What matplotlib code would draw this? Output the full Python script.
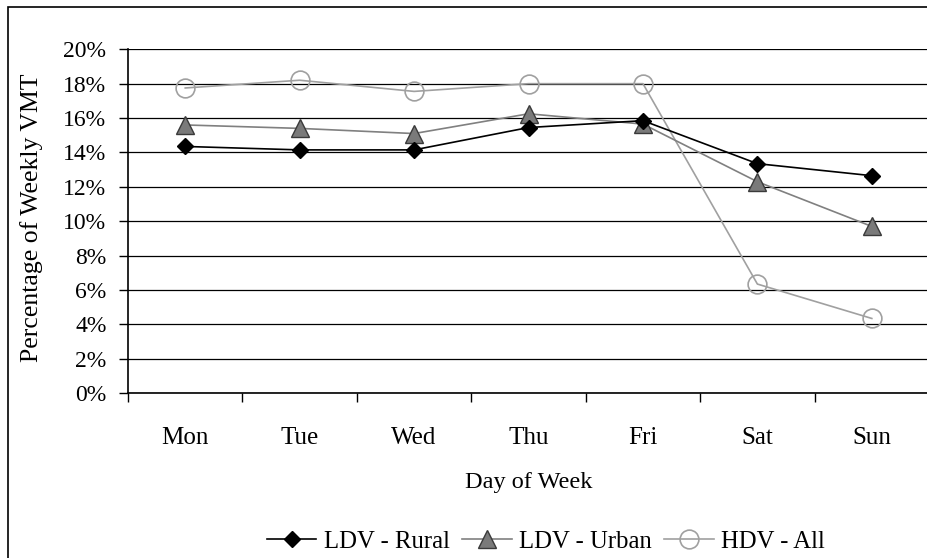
import matplotlib
matplotlib.use('Agg')
import matplotlib.pyplot as plt
from matplotlib.patches import Rectangle
from matplotlib.ticker import FuncFormatter, FixedLocator

# --- dados ---
days = ['Mon', 'Tue', 'Wed', 'Thu', 'Fri', 'Sat', 'Sun']
ldv_rural = [14.35, 14.15, 14.15, 15.45, 15.85, 13.35, 12.65]
ldv_urban = [15.6, 15.4, 15.1, 16.25, 15.65, 12.3, 9.7]
hdv_all = [17.75, 18.2, 17.55, 18.0, 18.0, 6.35, 4.35]

plt.rcParams['font.family'] = ['Liberation Serif', 'DejaVu Serif']
FS = 17

fig = plt.figure(figsize=(9.27, 5.58), dpi=100)
ax = fig.add_axes([0.1381, 0.2952, 0.8641, 0.6165])

x = list(range(len(days)))

ax.plot(x, ldv_rural, color='black', lw=1.2, marker='D', ms=8.5,
        mfc='black', mec='black', label='LDV - Rural', zorder=5)
ax.plot(x, ldv_urban, color='#808080', lw=1.2, marker='^', ms=12.5,
        mfc='#7a7a7a', mec='#3a3a3a', mew=1.0, label='LDV - Urban', zorder=4)
ax.plot(x, hdv_all, color='#a0a0a0', lw=1.2, marker='o', ms=13.5,
        mfc='none', mec='#a0a0a0', mew=1.2, label='HDV - All', zorder=3)

ax.set_xlim(-0.5, 6.5)
ax.set_ylim(0, 20)
ax.set_yticks(range(0, 21, 2))
ax.yaxis.set_major_formatter(FuncFormatter(lambda v, p: '%d%%' % v))
ax.grid(axis='y', color='black', lw=0.9, zorder=0)
ax.set_axisbelow(True)

ax.set_xticks(x)
ax.set_xticklabels(days)
ax.xaxis.set_minor_locator(FixedLocator([i - 0.5 for i in range(8)]))
ax.tick_params(axis='x', which='major', length=0, pad=24, labelsize=18)
ax.tick_params(axis='x', which='minor', length=6.5, width=1, direction='out')
ax.tick_params(axis='y', length=6.5, width=1, direction='out', pad=9, labelsize=FS)

for s in ['top', 'right']:
    ax.spines[s].set_visible(False)
ax.spines['left'].set_linewidth(1.2)
ax.spines['bottom'].set_linewidth(1.2)

ax.text(0.5, -0.26, 'Day of Week', transform=ax.transAxes,
        ha='center', va='center', fontsize=17.5)
fig.text(32 / 927, 1 - 218 / 558, 'Percentage of Weekly VMT', rotation=90,
         ha='center', va='center', fontsize=18.5)

fig.legend(loc='center', bbox_to_anchor=(546 / 927, 1 - 542 / 558), ncol=3,
           frameon=False, fontsize=17.8, handlelength=2.0, handletextpad=0.3,
           columnspacing=0.5, borderaxespad=0, borderpad=0)

# moldura do gráfico (cortada à direita e em baixo)
fig.patches.append(Rectangle((8 / 927, -0.1), 1.2, 1 - 7 / 558 + 0.1,
                             transform=fig.transFigure, fill=False,
                             edgecolor='black', lw=1.2, clip_on=False))

plt.savefig('out.png', dpi=100)
